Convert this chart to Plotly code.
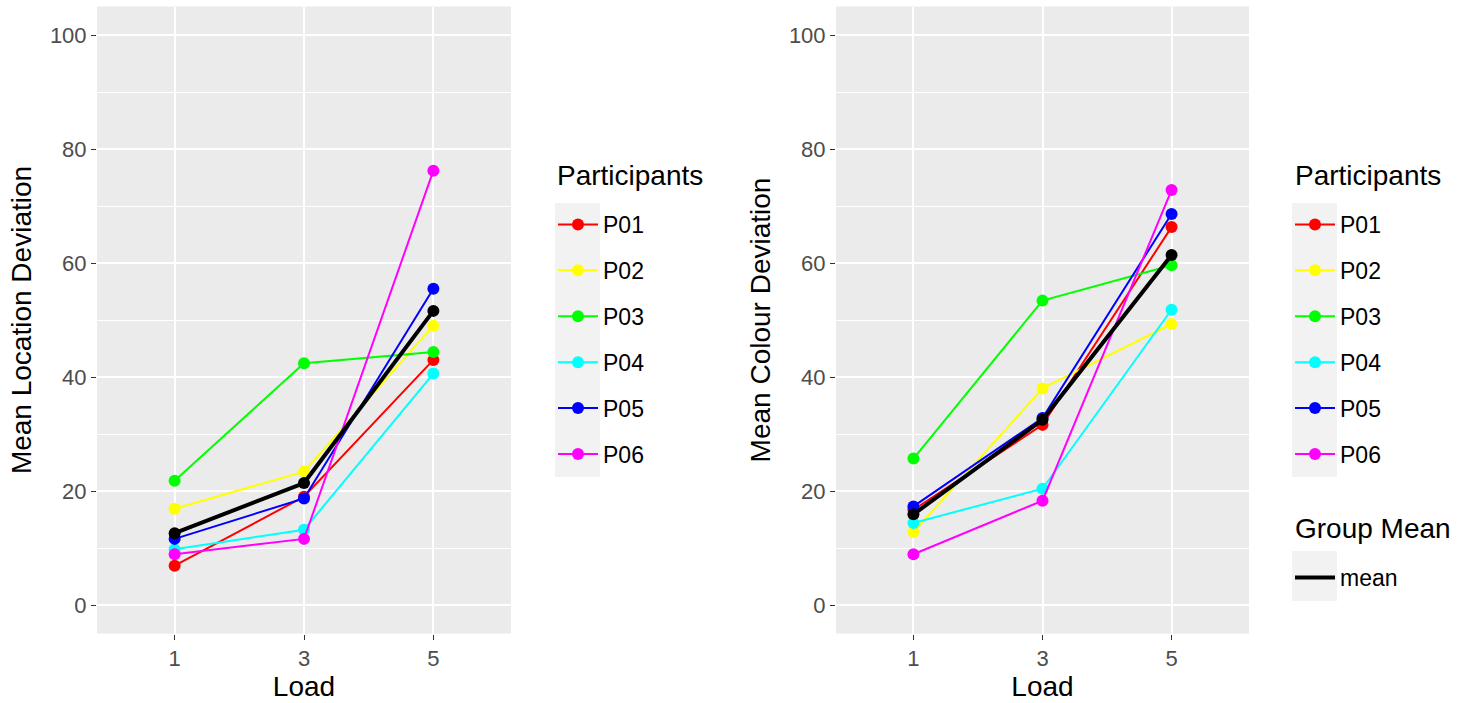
import plotly.graph_objects as go

loads = [1, 3, 5]
participants = ["P01", "P02", "P03", "P04", "P05", "P06"]
colors = ["#FF0000", "#FFFF00", "#00FF00", "#00FFFF", "#0000FF", "#FF00FF"]

location = {
    "P01": [6.9, 19.0, 43.0],
    "P02": [16.9, 23.4, 49.0],
    "P03": [21.8, 42.4, 44.4],
    "P04": [9.8, 13.2, 40.6],
    "P05": [11.6, 18.7, 55.5],
    "P06": [8.9, 11.6, 76.2],
}
location_mean = [12.6, 21.4, 51.6]

colour = {
    "P01": [16.7, 31.6, 66.3],
    "P02": [12.8, 38.0, 49.3],
    "P03": [25.7, 53.4, 59.6],
    "P04": [14.4, 20.4, 51.8],
    "P05": [17.3, 32.8, 68.6],
    "P06": [8.9, 18.3, 72.8],
}
colour_mean = [15.9, 32.5, 61.4]

y_ticks = [0, 20, 40, 60, 80, 100]

W, H = 1459, 703
FONT = "Liberation Sans, Arial, sans-serif"

fig = go.Figure()


def add_panel(data, mean, xa, ya, legend_name, show_mean_legend):
    for p, c in zip(participants, colors):
        fig.add_trace(go.Scatter(
            x=loads, y=data[p], mode="lines+markers", name=p,
            line=dict(color=c, width=2), marker=dict(color=c, size=12),
            xaxis=xa, yaxis=ya, legend=legend_name,
            legendgroup=legend_name + p,
        ))
    fig.add_trace(go.Scatter(
        x=loads, y=mean, mode="lines", name="mean",
        line=dict(color="black", width=4),
        xaxis=xa, yaxis=ya, legend="legend3",
        showlegend=show_mean_legend, legendgroup="meangrp" + xa,
    ))
    fig.add_trace(go.Scatter(
        x=loads, y=mean, mode="markers", name="mean",
        marker=dict(color="black", size=12),
        xaxis=xa, yaxis=ya, showlegend=False,
    ))


add_panel(location, location_mean, "x", "y", "legend", False)
add_panel(colour, colour_mean, "x2", "y2", "legend2", True)

ydom = [1 - 633.5 / H, 1 - 6.5 / H]
xdom1 = [97 / W, 511 / W]
xdom2 = [836 / W, 1249 / W]

common_x = dict(
    range=[-0.2, 6.2], tickvals=loads, ticktext=[str(v) for v in loads],
    showgrid=True, gridcolor="white", gridwidth=1.6, zeroline=False,
    ticks="outside", ticklen=5, tickwidth=1.2, tickcolor="#333333",
    tickfont=dict(size=22, color="#4D4D4D", family=FONT),
    showline=False,
)
common_y = dict(
    range=[-5, 105], tickvals=y_ticks, showgrid=True, gridcolor="white",
    gridwidth=1.6, zeroline=False, ticks="outside", ticklen=5, tickwidth=1.2,
    tickcolor="#333333", tickfont=dict(size=22, color="#4D4D4D", family=FONT),
    minor=dict(tickvals=[10, 30, 50, 70, 90], showgrid=True, gridcolor="white",
               gridwidth=0.8, ticks=""),
    showline=False,
)

leg_common = dict(xanchor="left", yanchor="top", font=dict(size=23),
                  bgcolor="rgba(0,0,0,0)", itemwidth=40)

fig.update_layout(
    width=W, height=H, margin=dict(l=0, r=0, t=0, b=0),
    paper_bgcolor="white", plot_bgcolor="#EBEBEB",
    font=dict(family=FONT, color="black"),
    xaxis=dict(domain=xdom1, anchor="y", **common_x,
               title=dict(text="Load", font=dict(size=28, color="black"), standoff=4)),
    yaxis=dict(domain=ydom, anchor="x", **common_y,
               title=dict(text="Mean Location Deviation", font=dict(size=28, color="black"), standoff=10)),
    xaxis2=dict(domain=xdom2, anchor="y2", **common_x,
                title=dict(text="Load", font=dict(size=28, color="black"), standoff=4)),
    yaxis2=dict(domain=ydom, anchor="x2", **common_y,
                title=dict(text="Mean Colour Deviation", font=dict(size=28, color="black"), standoff=10)),
    legend=dict(x=553 / W, y=1 - 203 / H, tracegroupgap=13, **leg_common),
    legend2=dict(x=1290 / W, y=1 - 203 / H, tracegroupgap=13, **leg_common),
    legend3=dict(x=1290 / W, y=1 - 556 / H, **leg_common),
)

# legend titles
for x0, y0, txt in [(555, 175, "Participants"), (1293, 175, "Participants"), (1293, 528, "Group Mean")]:
    fig.add_annotation(x=x0 / W, y=1 - y0 / H, xref="paper", yref="paper",
                       xanchor="left", yanchor="middle", text=txt, showarrow=False,
                       font=dict(size=28, color="black", family=FONT))

# legend key backgrounds (ggplot grey95)
for x0, x1, y0, y1 in [(555, 600, 203, 477), (1292, 1337, 203, 477), (1292, 1337, 551, 601)]:
    fig.add_shape(type="rect", xref="paper", yref="paper",
                  x0=x0 / W, x1=x1 / W, y0=1 - y1 / H, y1=1 - y0 / H,
                  fillcolor="#F2F2F2", line=dict(width=0), layer="below")

fig.write_html("out.html")
